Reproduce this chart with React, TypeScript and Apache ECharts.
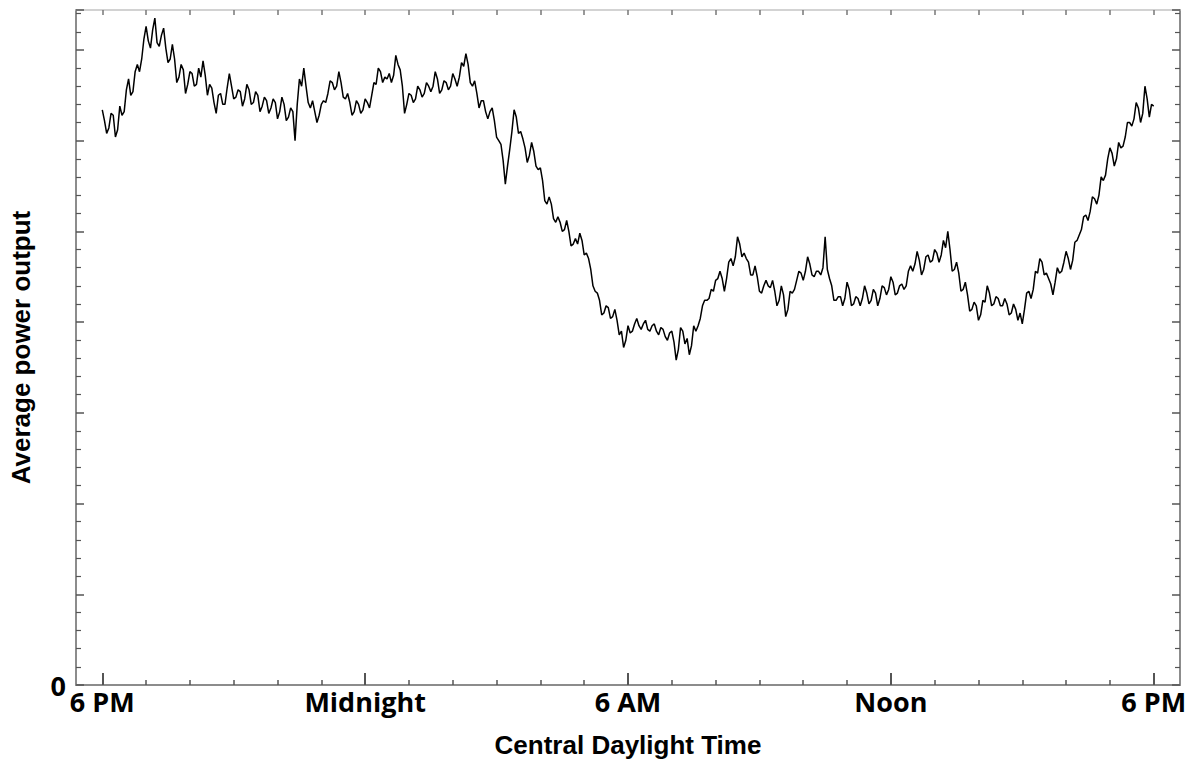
import React, { useEffect, useRef } from "react";
import * as echarts from "echarts";

// Time grid: one sample every 3 minutes from 6 PM (0 h) to 6 PM next day (24 h)
const SAMPLE_MINUTES = 3;

// Average power output (arbitrary units; one major tick = 100)
const powerValues: number[] = [
  634, 622, 608, 614, 630, 628, 604, 612, 638, 628,
  632, 656, 668, 650, 654, 676, 684, 676, 690, 712,
  726, 710, 702, 722, 735, 708, 704, 716, 724, 702,
  686, 690, 706, 690, 664, 670, 684, 678, 652, 662,
  676, 674, 660, 662, 680, 670, 688, 672, 650, 662,
  658, 642, 630, 650, 652, 640, 640, 658, 674, 660,
  646, 648, 656, 654, 638, 646, 662, 656, 640, 642,
  654, 650, 632, 638, 648, 644, 630, 636, 646, 642,
  624, 632, 648, 640, 622, 626, 636, 632, 600, 640,
  668, 660, 680, 660, 642, 636, 644, 632, 620, 628,
  640, 644, 642, 652, 666, 664, 656, 660, 676, 664,
  648, 646, 652, 642, 628, 632, 644, 640, 630, 634,
  646, 642, 636, 650, 664, 662, 680, 676, 664, 670,
  668, 674, 664, 672, 694, 684, 678, 660, 630, 640,
  652, 650, 642, 646, 660, 656, 648, 652, 664, 660,
  654, 660, 676, 668, 652, 656, 666, 664, 656, 660,
  674, 668, 660, 670, 686, 682, 696, 684, 664, 660,
  666, 652, 636, 644, 644, 632, 624, 632, 636, 622,
  604, 600, 596, 578, 552, 572, 590, 610, 634, 626,
  608, 610, 602, 592, 576, 584, 598, 588, 572, 568,
  570, 556, 534, 530, 538, 530, 514, 510, 516, 510,
  500, 502, 512, 500, 484, 486, 492, 486, 498, 490,
  474, 476, 470, 458, 440, 434, 432, 424, 408, 410,
  418, 416, 404, 406, 414, 402, 386, 390, 372, 380,
  396, 388, 390, 398, 404, 396, 392, 398, 402, 392,
  390, 396, 398, 390, 386, 394, 392, 384, 380, 388,
  390, 378, 358, 370, 394, 390, 376, 382, 364, 374,
  396, 390, 396, 404, 418, 424, 424, 426, 436, 434,
  446, 448, 456, 448, 434, 448, 466, 470, 462, 472,
  494, 486, 472, 476, 470, 466, 452, 452, 462, 450,
  434, 432, 440, 446, 440, 438, 446, 434, 418, 424,
  440, 430, 406, 414, 434, 432, 436, 446, 456, 454,
  446, 456, 472, 464, 452, 450, 456, 456, 452, 460,
  494, 458, 448, 440, 424, 424, 428, 428, 418, 426,
  444, 436, 418, 420, 428, 426, 418, 426, 440, 432,
  420, 424, 436, 432, 418, 426, 440, 438, 430, 436,
  450, 444, 430, 432, 440, 442, 436, 440, 456, 462,
  456, 464, 478, 468, 452, 458, 472, 474, 466, 468,
  480, 476, 466, 474, 490, 482, 500, 480, 456, 458,
  466, 454, 434, 436, 444, 430, 412, 414, 422, 418,
  402, 408, 424, 422, 440, 432, 418, 420, 428, 426,
  418, 418, 426, 420, 408, 410, 420, 414, 402, 410,
  398, 414, 432, 434, 426, 436, 456, 454, 470, 466,
  452, 454, 448, 442, 430, 444, 460, 454, 456, 466,
  478, 470, 458, 468, 488, 490, 496, 502, 516, 518,
  512, 522, 538, 536, 530, 540, 560, 556, 562, 580,
  592, 586, 572, 580, 598, 592, 594, 604, 620, 620,
  616, 624, 642, 636, 620, 630, 660, 646, 626, 640,
  638,
];

// Hour ticks and labelled hours
const hourTicks: number[] = Array.from({ length: 25 }, (_, i) => i);
const majorHours: number[] = [0, 6, 12, 18, 24];
const majorLabels: string[] = ["6 PM", "Midnight", "6 AM", "Noon", "6 PM"];

const X_MIN = -0.6;
const X_MAX = 24.6;
const Y_MAX = 744;

export default function App() {
  const ref = useRef<HTMLDivElement>(null);

  useEffect(() => {
    if (!ref.current) return;
    const chart = echarts.init(ref.current, null, { renderer: "svg" });

    const seriesData = powerValues.map((v, i) => [(i * SAMPLE_MINUTES) / 60, v]);
    const labelFor = (v: number) => {
      const idx = majorHours.indexOf(Math.round(v));
      return idx >= 0 ? majorLabels[idx] : "";
    };

    const axisGray = "#8c8c8c";
    const tickGray = "#555";

    chart.setOption({
      animation: false,
      backgroundColor: "#ffffff",
      grid: { left: 76, right: 13, top: 10, bottom: 74, containLabel: false },
      xAxis: [
        {
          type: "value",
          position: "bottom",
          min: X_MIN,
          max: X_MAX,
          axisLine: { show: true, onZero: false, lineStyle: { color: axisGray, width: 2 } },
          axisTick: {
            show: true,
            inside: true,
            length: 5,
            customValues: hourTicks,
            lineStyle: { color: tickGray, width: 1.5 },
          },
          axisLabel: {
            show: true,
            customValues: majorHours,
            formatter: (v: number) => labelFor(v),
            fontFamily: "Open Sans",
            fontWeight: "bold",
            fontSize: 27,
            color: "#000",
            margin: 3,
          },
          splitLine: { show: false },
          name: "Central Daylight Time",
          nameLocation: "middle",
          nameGap: 47,
          nameTextStyle: {
            fontFamily: "Liberation Sans",
            fontWeight: "bold",
            fontSize: 26,
            color: "#000",
          },
        },
        {
          type: "value",
          position: "bottom",
          min: X_MIN,
          max: X_MAX,
          axisLine: { show: false, onZero: false },
          axisTick: {
            show: true,
            inside: true,
            length: 12,
            customValues: majorHours,
            lineStyle: { color: tickGray, width: 2 },
          },
          axisLabel: { show: false },
          splitLine: { show: false },
        },
        {
          type: "value",
          position: "top",
          min: X_MIN,
          max: X_MAX,
          axisLine: { show: true, onZero: false, lineStyle: { color: "#c4c4c4", width: 1.5 } },
          axisTick: {
            show: true,
            inside: true,
            length: 5,
            customValues: hourTicks,
            lineStyle: { color: "#777", width: 1.5 },
          },
          axisLabel: { show: false },
          splitLine: { show: false },
        },
      ],
      yAxis: [
        {
          type: "value",
          position: "left",
          min: 0,
          max: Y_MAX,
          interval: 100,
          axisLine: { show: true, onZero: false, lineStyle: { color: axisGray, width: 2 } },
          axisTick: { show: true, inside: true, length: 8, lineStyle: { color: tickGray, width: 1.5 } },
          minorTick: { show: true, splitNumber: 5, length: 5, lineStyle: { color: tickGray, width: 1.2 } },
          axisLabel: {
            show: true,
            formatter: (v: number) => (v === 0 ? "0" : ""),
            fontFamily: "Open Sans",
            fontWeight: "bold",
            fontSize: 27,
            color: "#000",
            margin: 10,
          },
          splitLine: { show: false },
          minorSplitLine: { show: false },
          name: "Average power output",
          nameLocation: "middle",
          nameGap: 42,
          nameRotate: 90,
          nameTextStyle: {
            fontFamily: "Liberation Sans",
            fontWeight: "bold",
            fontSize: 26,
            color: "#000",
          },
        },
        {
          type: "value",
          position: "right",
          min: 0,
          max: Y_MAX,
          interval: 100,
          axisLine: { show: true, onZero: false, lineStyle: { color: axisGray, width: 2 } },
          axisTick: { show: true, inside: true, length: 8, lineStyle: { color: tickGray, width: 1.5 } },
          minorTick: { show: true, splitNumber: 5, length: 5, lineStyle: { color: tickGray, width: 1.2 } },
          axisLabel: { show: false },
          splitLine: { show: false },
          minorSplitLine: { show: false },
        },
      ],
      series: [
        {
          type: "line",
          xAxisIndex: 0,
          yAxisIndex: 0,
          data: seriesData,
          showSymbol: false,
          symbol: "none",
          lineStyle: { color: "#000", width: 1.5 },
        },
      ],
    });

    return () => chart.dispose();
  }, []);

  return (
    <div
      ref={ref}
      style={{ position: "fixed", left: 0, top: 0, width: 1193, height: 763, background: "#fff" }}
    />
  );
}
